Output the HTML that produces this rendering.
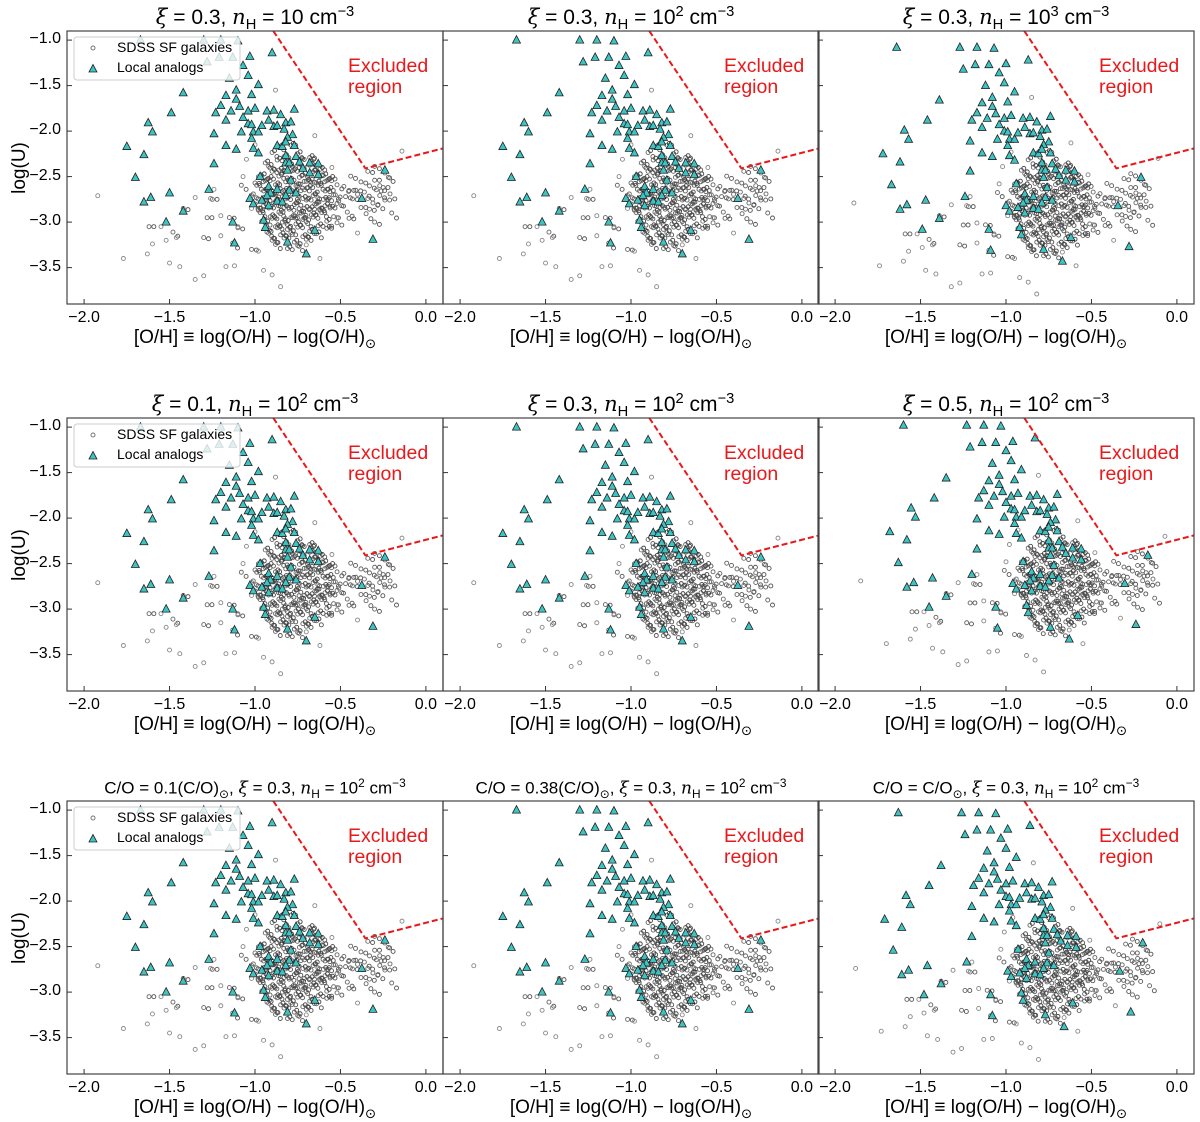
<!DOCTYPE html>
<html><head><meta charset="utf-8">
<style>
body{margin:0;background:#fff;width:1200px;height:1121px;overflow:hidden;position:relative;font-family:"Liberation Sans","DejaVu Sans",sans-serif}
.t{position:absolute;white-space:nowrap;color:#000}
.title{font-size:21px;transform:translateX(-50%)}
.title.s{font-size:17px}
.xl{font-size:19px;transform:translateX(-50%)}
.tk{font-size:16px;transform:translateX(-50%)}
.yl{font-size:19px;transform:translate(-50%,-50%) rotate(-90deg)}
i{font-family:"DejaVu Serif","Liberation Serif",serif}
sub,sup{font-size:70%}
</style></head><body>
<svg id="chart" width="1200" height="1121" style="position:absolute;left:0;top:0"></svg>
<script>
// ---------- data ----------
const xTicks=[-2.0,-1.5,-1.0,-0.5,0.0];
const xTickLabels=["\u22122.0","\u22121.5","\u22121.0","\u22120.5","0.0"];
const yTicks=[-1.0,-1.5,-2.0,-2.5,-3.0,-3.5];
const yTickLabels=["\u22121.0","\u22121.5","\u22122.0","\u22122.5","\u22123.0","\u22123.5"];
const exclX=[-0.893,-0.354,0.1];
const exclY=[-0.9,-2.41,-2.19];
const analogX=[-1.67,-1.30,-1.20,-1.10,-1.28,-1.21,-1.13,-1.03,-0.90,-1.07,-1.15,-1.04,-1.42,-1.49,-1.625,-1.60,-1.75,-1.65,-1.70,-1.50,-1.65,-1.61,-1.42,-1.52,-1.27,-1.24,-1.24,-1.17,-1.11,-1.13,-1.12,-1.17,-1.11,-1.11,-1.20,-1.23,-1.14,-1.17,-1.09,-1.07,-1.04,-1.00,-0.98,-1.02,-1.04,-1.08,-1.02,-1.01,-0.98,-1.02,-1.01,-0.98,-0.96,-0.93,-0.92,-0.89,-0.85,-0.89,-0.87,-0.77,-0.82,-0.79,-0.83,-0.78,-0.81,-0.87,-0.84,-0.77,-0.82,-0.82,-0.76,-0.82,-0.80,-0.74,-0.72,-0.68,-0.63,-0.68,-0.63,-0.81,-0.97,-0.92,-0.79,-0.87,-0.80,-0.76,-0.91,-0.93,-0.96,-1.03,-1.01,-0.87,-0.82,-0.84,-0.92,-0.95,-0.94,-0.81,-0.70,-0.65,-0.375,-0.24,-0.31];
const analogY=[-1.0,-1.0,-1.0,-1.01,-1.24,-1.19,-1.19,-1.18,-1.14,-1.28,-1.42,-1.39,-1.58,-1.80,-1.91,-2.01,-2.17,-2.26,-2.51,-2.68,-2.78,-2.73,-2.88,-3.0,-2.64,-2.36,-2.03,-2.16,-2.20,-3.0,-3.23,-1.61,-1.55,-1.65,-1.72,-1.80,-1.78,-1.88,-1.73,-1.85,-1.78,-1.75,-1.49,-1.60,-1.92,-2.01,-1.93,-2.01,-2.01,-2.08,-2.19,-2.24,-1.94,-1.78,-1.88,-1.77,-1.82,-1.95,-1.94,-1.76,-1.91,-1.90,-1.98,-2.04,-2.07,-2.16,-2.17,-2.16,-2.12,-2.27,-2.28,-2.35,-2.35,-2.34,-2.41,-2.35,-2.36,-2.46,-2.48,-2.43,-2.50,-2.61,-2.54,-2.64,-2.65,-2.68,-2.68,-2.71,-2.76,-2.74,-2.80,-2.77,-2.71,-2.78,-2.82,-2.98,-3.06,-3.22,-3.35,-3.09,-2.74,-2.43,-3.19];
const sdssRowY=[-2.18,-2.26,-2.33,-2.40,-2.46,-2.52,-2.57,-2.62,-2.67,-2.72,-2.77,-2.82,-2.87,-2.92,-2.97,-3.02,-3.08,-3.14,-3.20,-3.27];
const sdssRowX=[
 [-0.86,-0.79],
 [-0.90,-0.83,-0.75,-0.68],
 [-0.94,-0.87,-0.81,-0.74,-0.67],
 [-0.92,-0.86,-0.80,-0.74,-0.68,-0.62,-0.30],
 [-0.96,-0.90,-0.84,-0.78,-0.72,-0.66,-0.60,-0.34,-0.24],
 [-0.98,-0.92,-0.86,-0.80,-0.74,-0.68,-0.62,-0.56,-0.44,-0.30,-0.22],
 [-1.00,-0.94,-0.88,-0.82,-0.76,-0.70,-0.64,-0.58,-0.52,-0.38,-0.27],
 [-0.99,-0.93,-0.87,-0.81,-0.75,-0.69,-0.63,-0.57,-0.48,-0.41,-0.33,-0.25,-1.08],
 [-1.01,-0.95,-0.89,-0.83,-0.77,-0.71,-0.65,-0.59,-0.53,-0.45,-0.36,-0.29,-0.21],
 [-1.02,-0.96,-0.90,-0.84,-0.78,-0.72,-0.66,-0.60,-0.54,-0.47,-0.40,-0.34,-0.27,-1.25],
 [-1.00,-0.94,-0.88,-0.82,-0.76,-0.70,-0.64,-0.58,-0.51,-0.43,-0.31,-0.24],
 [-1.01,-0.95,-0.89,-0.83,-0.77,-0.71,-0.65,-0.59,-0.52,-0.38,-0.28,-1.42],
 [-0.98,-0.92,-0.86,-0.80,-0.74,-0.68,-0.62,-0.56,-0.46,-0.33,-0.20],
 [-0.97,-0.91,-0.85,-0.79,-0.73,-0.67,-0.61,-0.54,-0.35,-1.15],
 [-0.96,-0.90,-0.84,-0.78,-0.72,-0.66,-0.58,-0.45,-0.30,-1.28],
 [-0.94,-0.88,-0.82,-0.76,-0.70,-0.63,-0.52,-1.62],
 [-0.93,-0.87,-0.81,-0.75,-0.68,-0.58,-1.48,-1.10],
 [-0.92,-0.85,-0.79,-0.72,-0.64,-1.30],
 [-0.90,-0.83,-0.77,-0.70,-1.13],
 [-0.88,-0.81,-0.75,-1.02]
];
const sdssSparseX=[-1.92,-1.77,-1.60,-1.55,-1.50,-1.46,-1.44,-1.35,-1.30,-1.26,-1.20,-1.17,-1.12,-1.35,-1.24,-1.20,-1.05,-1.00,-0.98,-0.95,-0.85,-0.90,-1.10,-0.88,-0.65,-0.55,-0.52,-0.40,-0.14,-1.07,-1.02,-0.62,-0.70,-1.63,-1.52];
const sdssSparseY=[-2.71,-3.40,-3.24,-3.05,-3.45,-3.17,-3.49,-3.63,-3.59,-2.74,-3.15,-3.49,-3.48,-2.73,-2.64,-2.93,-2.31,-2.15,-3.32,-3.53,-3.71,-3.58,-3.05,-1.55,-2.05,-2.40,-2.95,-3.12,-2.22,-2.50,-2.85,-3.40,-3.25,-3.35,-3.20];
const panelDX=[0,0,0.03,0,0,0.07,0,0,0.04];
const panelDY=[0,0,-0.08,0,0,0.02,0,0,-0.03];
const panelTitles=[
 '<i>ξ</i> = 0.3,  <i>n</i><sub>H</sub> = 10 cm<sup>−3</sup>',
 '<i>ξ</i> = 0.3,  <i>n</i><sub>H</sub> = 10<sup>2</sup> cm<sup>−3</sup>',
 '<i>ξ</i> = 0.3,  <i>n</i><sub>H</sub> = 10<sup>3</sup> cm<sup>−3</sup>',
 '<i>ξ</i> = 0.1,  <i>n</i><sub>H</sub> = 10<sup>2</sup> cm<sup>−3</sup>',
 '<i>ξ</i> = 0.3,  <i>n</i><sub>H</sub> = 10<sup>2</sup> cm<sup>−3</sup>',
 '<i>ξ</i> = 0.5,  <i>n</i><sub>H</sub> = 10<sup>2</sup> cm<sup>−3</sup>',
 'C/O = 0.1(C/O)<sub>⊙</sub>,  <i>ξ</i> = 0.3,  <i>n</i><sub>H</sub> = 10<sup>2</sup> cm<sup>−3</sup>',
 'C/O = 0.38(C/O)<sub>⊙</sub>,  <i>ξ</i> = 0.3,  <i>n</i><sub>H</sub> = 10<sup>2</sup> cm<sup>−3</sup>',
 'C/O = C/O<sub>⊙</sub>,  <i>ξ</i> = 0.3,  <i>n</i><sub>H</sub> = 10<sup>2</sup> cm<sup>−3</sup>'
];
const panelNames=['xi03-n10','xi03-n100','xi03-n1000','xi01-n100','xi03-n100-b','xi05-n100','co01','co038','co1'];
const jit=[0,0.025,-0.02,0.012,-0.03,0.018];
// ---------- layout ----------
const colL=[67,443,818], rowT=[31,418,801], PW=376, PH=273;
const XMIN=-2.1,XMAX=0.1,YMIN=-3.9,YMAX=-0.9;
const NS='http://www.w3.org/2000/svg';
const svg=document.getElementById('chart');
function mk(tag,attrs,parent){const e=document.createElementNS(NS,tag);for(const k in attrs)e.setAttribute(k,attrs[k]);(parent||svg).appendChild(e);return e;}
function txt(html,cls,x,y){const d=document.createElement('div');d.className='t '+cls;d.style.left=x+'px';d.style.top=y+'px';d.innerHTML=html;document.body.appendChild(d);return d;}
for(let p=0;p<9;p++){
  const r=Math.floor(p/3),c=p%3,L=colL[c],T=rowT[r];
  const sx=v=>L+(v-XMIN)/(XMAX-XMIN)*PW;
  const sy=v=>T+(YMAX-v)/(YMAX-YMIN)*PH;
  const g=mk('g',{});
  
  
  const clip=mk('clipPath',{id:'cl'+p},g);mk('rect',{x:L,y:T,width:PW,height:PH},clip);
  const pts=mk('g',{'clip-path':'url(#cl'+p+')'},g);
  const dx=panelDX[p],dy=panelDY[p];
  const sg=mk('g',{},pts);
  
  
  for(let i=0;i<sdssRowY.length;i++){
    sdssRowX[i].forEach((x,j)=>{
      const yy=sdssRowY[i]+jit[(i+j)%6];
      mk('circle',{cx:sx(x+dx),cy:sy(yy+dy),r:2,fill:'none',stroke:'#666','stroke-width':0.9},sg);
      mk('circle',{cx:sx(x+dx+0.028),cy:sy(yy+dy-0.025+jit[(i*2+j)%6]),r:2,fill:'none',stroke:'#555','stroke-width':0.9},sg);
      if(x>-1.0&&x<-0.55) mk('circle',{cx:sx(x+dx+0.014),cy:sy(yy+dy+0.02),r:2,fill:'none',stroke:'#444','stroke-width':0.9},sg);
    });
  }
  sdssSparseX.forEach((x,i)=>{mk('circle',{cx:sx(x+dx),cy:sy(sdssSparseY[i]+dy),r:2,fill:'none',stroke:'#888','stroke-width':0.9},sg);});
  const ag=mk('g',{},pts);
  
  
  analogX.forEach((x,i)=>{
    const X=sx(x+dx),Y=sy(analogY[i]+dy);
    mk('polygon',{points:`${X},${Y-4.5} ${X-4},${Y+3} ${X+4},${Y+3}`,fill:'#3cc4c4',stroke:'#222','stroke-width':0.8},ag);
  });
  const el=mk('polyline',{points:exclX.map((x,i)=>sx(x)+','+sy(exclY[i])).join(' '),fill:'none',stroke:'#e8191b','stroke-width':2,'stroke-dasharray':'6,3'},pts);
  
  
  mk('rect',{x:L,y:T,width:PW,height:PH,fill:'none',stroke:'#444','stroke-width':1.2},g);
  xTicks.forEach((v,i)=>{const X=sx(v);mk('line',{x1:X,x2:X,y1:T+PH,y2:T+PH-5,stroke:'#333'},g);
    txt(xTickLabels[i],'tk',X,T+PH+5);});
  yTicks.forEach((v,i)=>{const Y=sy(v);mk('line',{x1:L,x2:L+5,y1:Y,y2:Y,stroke:'#333'},g);
    if(c===0){const d=txt(yTickLabels[i],'',L-6,Y-10);d.style.fontSize='16px';d.style.transform='translateX(-100%)';}});
  const tt=txt(panelTitles[p],'title'+(r===2?' s':''),L+PW/2,T-(r===2?25:27));
  
  
  const xl=txt('[O/H] ≡ log(O/H) − log(O/H)<sub>⊙</sub>','xl',L+PW/2,T+PH+23);
  
  
  const ex=txt('Excluded<br>region','',L+281,T+25);
  ex.style.color='#e8191b';ex.style.fontSize='19.5px';ex.style.lineHeight='21px';
  
  
  if(c===0){
    const yl=txt('log(U)','yl',20,T+PH/2);
    
    
    const lg=mk('g',{},g);
    
    
    mk('rect',{x:L+7,y:T+6,width:166,height:43,rx:3,fill:'rgba(255,255,255,0.8)',stroke:'#ccc'},lg);
    mk('circle',{cx:L+26,cy:T+17,r:2,fill:'none',stroke:'#777'},lg);
    const X=L+26,Y=T+38;
    mk('polygon',{points:`${X},${Y-4.5} ${X-4},${Y+3} ${X+4},${Y+3}`,fill:'#3cc4c4',stroke:'#222','stroke-width':0.8},lg);
    const a=txt('SDSS SF galaxies','',L+50,T+8);a.style.fontSize='14px';
    
    
    const b=txt('Local analogs','',L+50,T+28);b.style.fontSize='14px';
    
    
  }
}
</script>
</body></html>
